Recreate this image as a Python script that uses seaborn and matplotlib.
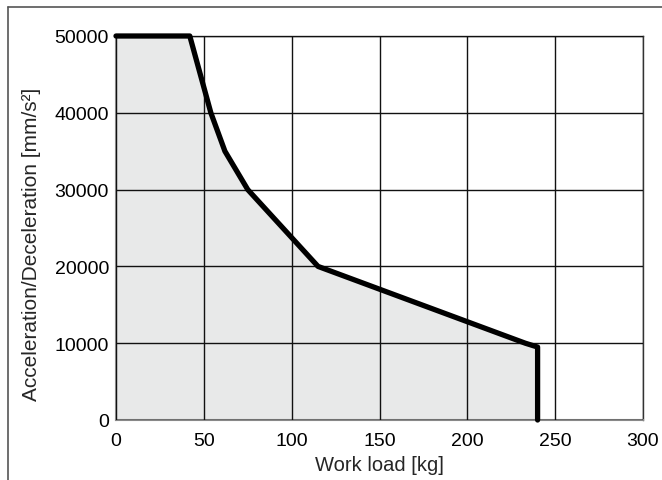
import matplotlib
matplotlib.use("Agg")
import matplotlib.pyplot as plt
import seaborn as sns
import pandas as pd
from matplotlib.lines import Line2D

# curve of allowed acceleration vs work load
load_kg = [0, 42, 54, 62, 75, 115, 233, 240, 240]
accel = [50000, 50000, 40000, 35000, 30000, 20000, 10000, 9500, 0]

x_ticks = [0, 50, 100, 150, 200, 250, 300]
y_ticks = [0, 10000, 20000, 30000, 40000, 50000]

sns.set_theme(style="white")
plt.rcParams['font.family'] = ['Liberation Sans', 'DejaVu Sans']

df = pd.DataFrame({'load': load_kg, 'accel': accel})

fig = plt.figure(figsize=(6.62, 4.81), dpi=100)
ax = fig.add_axes([116 / 662, 1 - 421 / 481, 527 / 662, 384 / 481])

ax.fill_between(df['load'], df['accel'], 0, color='#e8e9e9', linewidth=0, zorder=1)
sns.lineplot(data=df, x='load', y='accel', sort=False, estimator=None, color='black',
             linewidth=3.8, ax=ax, zorder=3, clip_on=False)

ax.set_xlim(0, 300)
ax.set_ylim(0, 50000)
ax.set_xticks(x_ticks)
ax.set_yticks(y_ticks)
ax.grid(True, color='#111111', linewidth=1.0, zorder=2)
ax.set_axisbelow(False)
ax.tick_params(axis='both', length=0, labelsize=14, colors='black')
ax.tick_params(axis='x', pad=9)
ax.tick_params(axis='y', pad=5)
for side, sp in ax.spines.items():
    sp.set_color('#333333')
    sp.set_linewidth(1.0)
ax.spines['left'].set_color('#888888')
ax.spines['bottom'].set_color('#888888')
ax.spines['left'].set_linewidth(1.5)
ax.spines['bottom'].set_linewidth(1.5)

ax.set_xlabel('Work load [kg]', fontsize=14.5, labelpad=4)
ax.set_ylabel('Acceleration/Deceleration [mm/s²]', fontsize=15)
ax.yaxis.set_label_coords(-0.142, 0.46)

# frame around the figure (left and top)
fig.add_artist(Line2D([8 / 662, 8 / 662], [0, 1 - 8 / 481], color='#555555', linewidth=1.2))
fig.add_artist(Line2D([8 / 662, 1], [1 - 8 / 481, 1 - 8 / 481], color='#555555', linewidth=1.2))

fig.savefig('out.png', dpi=100)
